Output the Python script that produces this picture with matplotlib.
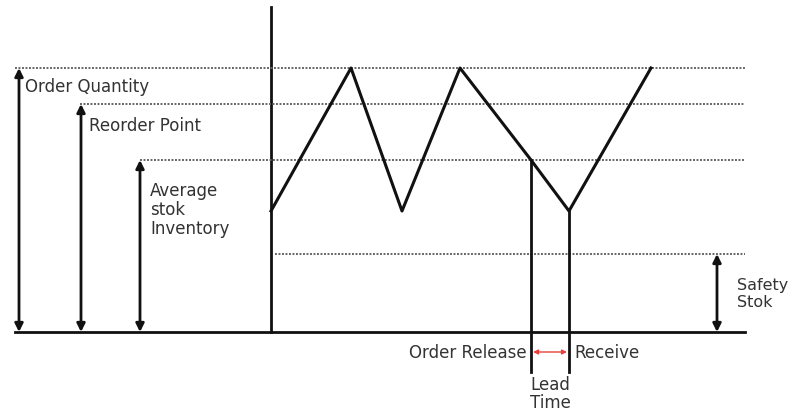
import matplotlib.pyplot as plt

# diagram coordinates (pixel-like units, y grows downward)
base_y = 333
axis_x = 271
levels = [69, 105, 161, 255]           # order qty, reorder, average, safety
level_start = [15, 80, 140, 275]
level_end = 745

stock_x = [271, 351, 402, 460, 531, 569, 651]
stock_y = [212, 69, 212, 69, 161, 212, 69]

release_x, receive_x = 531, 569
arrow_x = [19, 81, 140]
arrow_top = [69, 105, 161]
safety_x = 717

labels = ['Order Quantity', 'Reorder Point', 'Average\nstok\nInventory']
label_pos = [(25, 87), (89, 126), (150, 210)]

ink = '#111111'
txt = '#333333'

fig = plt.figure(figsize=(8, 4.14), dpi=100)
ax = fig.add_axes([0, 0, 1, 1])
ax.set_xlim(0, 800)
ax.set_ylim(414, 0)
ax.axis('off')

# axes of the diagram
ax.plot([15, 745], [base_y, base_y], color=ink, lw=2)
ax.plot([axis_x, axis_x], [8, base_y], color=ink, lw=2)

# dotted level lines
for lv, st in zip(levels, level_start):
    ax.plot([st, level_end], [lv, lv], color='#666666', lw=1.4, ls=(0, (1, 0.8)))

# inventory saw-tooth
ax.plot(stock_x, stock_y, color=ink, lw=2.2)

# order release / receive verticals
ax.plot([release_x, release_x], [161, 373], color=ink, lw=2)
ax.plot([receive_x, receive_x], [212, 373], color=ink, lw=2)

# double headed arrows on the left
for x, top in zip(arrow_x, arrow_top):
    ax.annotate('', xy=(x, top), xytext=(x, base_y),
                arrowprops=dict(arrowstyle='<|-|>', color=ink, lw=2, mutation_scale=12,
                                shrinkA=0, shrinkB=0))
ax.annotate('', xy=(safety_x, 255), xytext=(safety_x, base_y),
            arrowprops=dict(arrowstyle='<|-|>', color=ink, lw=2, mutation_scale=12,
                            shrinkA=0, shrinkB=0))

# lead time arrow
ax.annotate('', xy=(release_x + 2, 353), xytext=(receive_x - 2, 353),
            arrowprops=dict(arrowstyle='<|-|>', color='#e8403a', lw=1, mutation_scale=7,
                            shrinkA=0, shrinkB=0))

for s, (x, y) in zip(labels, label_pos):
    ax.text(x, y, s, fontsize=12, color=txt, va='center', ha='left', linespacing=1.05)

ax.text(737, 294, 'Safety\nStok', fontsize=11.5, color=txt, va='center', ha='left', linespacing=1.1)
ax.text(527, 353, 'Order Release', fontsize=12, color=txt, va='center', ha='right')
ax.text(574, 353, 'Receive', fontsize=12, color=txt, va='center', ha='left')
ax.text(550, 394, 'Lead\nTime', fontsize=12, color=txt, va='center', ha='center', linespacing=1.0)

fig.savefig('out.png', dpi=100)
